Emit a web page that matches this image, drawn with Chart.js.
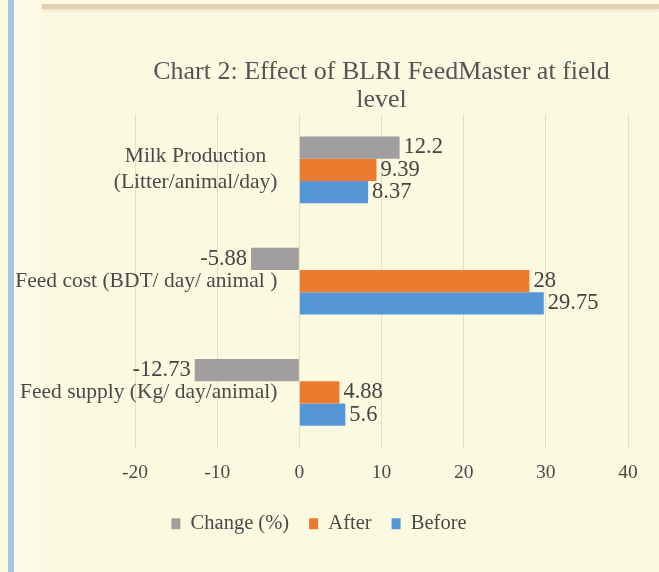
<!DOCTYPE html>
<html>
<head>
<meta charset="utf-8">
<script src="https://cdn.jsdelivr.net/npm/chart.js@4"></script>
<style>
  html, body { margin: 0; padding: 0; background: #fcf9e1; }
  #wrap { position: relative; width: 659px; height: 572px; overflow: hidden; background: #fcf9e1; }
  #sideLine { position: absolute; left: 8px; top: 0; width: 6px; height: 572px; background: #a9c5e6; }
  #sideGlow { position: absolute; left: 14px; top: 0; width: 26px; height: 572px; background: #fefbe9; }
  #topLine { position: absolute; left: 42px; top: 4px; width: 617px; height: 5px; background: #e4d0b3; box-shadow: 0 2px 3px #efe4c8; }
  canvas { position: absolute; left: 0; top: 0; }
</style>
</head>
<body>
<div id="wrap">
  <div id="sideGlow"></div>
  <div id="sideLine"></div>
  <div id="topLine"></div>
  <canvas id="barChart" width="659" height="572"></canvas>
</div>
<script>
// Kategori (atas ke bawah) dan nilai tiap seri
const categories = [
  ['Milk Production', '(Litter/animal/day)'],
  'Feed cost (BDT/ day/ animal )',
  'Feed supply (Kg/ day/animal)'
];
const changePct = [12.2, -5.88, -12.73];
const after = [9.39, 28, 4.88];
const before = [8.37, 29.75, 5.6];
const xTicks = [-20, -10, 0, 10, 20, 30, 40];

const serif = '"Liberation Serif", "Times New Roman", serif';
const textColor = '#4a4a4a';

// label kategori, rata kanan di kiri garis nol (seperti sumbu Excel yang memotong di 0)
const categoryLabels = {
  id: 'categoryLabels',
  afterDraw(chart) {
    const ctx = chart.ctx;
    const xs = chart.scales.x;
    const ys = chart.scales.y;
    const right = xs.getPixelForValue(0) - 22;
    const size = 21.5;
    const lh = 26;
    ctx.save();
    ctx.font = size + 'px ' + serif;
    ctx.fillStyle = textColor;
    ctx.textBaseline = 'middle';
    ctx.textAlign = 'center';
    chart.data.labels.forEach((lab, i) => {
      const lines = Array.isArray(lab) ? lab : [lab];
      const w = Math.max(...lines.map(l => ctx.measureText(l).width));
      const cx = right - w / 2;
      const cy = ys.getPixelForValue(i);
      lines.forEach((l, k) => {
        ctx.fillText(l, cx, cy + (k - (lines.length - 1) / 2) * lh);
      });
    });
    ctx.restore();
  }
};

// label angka di ujung batang
const valueLabels = {
  id: 'valueLabels',
  afterDatasetsDraw(chart) {
    const ctx = chart.ctx;
    ctx.save();
    ctx.font = '22.5px ' + serif;
    ctx.fillStyle = '#444444';
    ctx.textBaseline = 'middle';
    chart.data.datasets.forEach((ds, i) => {
      chart.getDatasetMeta(i).data.forEach((bar, j) => {
        const v = ds.data[j];
        if (v < 0) {
          ctx.textAlign = 'right';
          ctx.fillText(String(v), bar.x - 4, bar.y);
        } else {
          ctx.textAlign = 'left';
          ctx.fillText(String(v), bar.x + 4, bar.y);
        }
      });
    });
    ctx.restore();
  }
};

const ctx = document.getElementById('barChart').getContext('2d');
new Chart(ctx, {
  type: 'bar',
  data: {
    labels: categories,
    datasets: [
      { label: 'Change (%)', data: changePct, backgroundColor: '#a09e9e', borderWidth: 0 },
      { label: 'After', data: after, backgroundColor: '#ec7b2f', borderWidth: 0 },
      { label: 'Before', data: before, backgroundColor: '#5597d6', borderWidth: 0 }
    ]
  },
  options: {
    indexAxis: 'y',
    responsive: false,
    animation: false,
    devicePixelRatio: 1,
    categoryPercentage: 0.6,
    barPercentage: 1,
    layout: { padding: { left: 10, right: 31, top: 58, bottom: 28 } },
    scales: {
      x: {
        min: -20,
        max: 40,
        afterBuildTicks: (scale) => { scale.ticks = xTicks.map(v => ({ value: v })); },
        afterFit: (scale) => { scale.height -= 4; },
        grid: { color: '#e4e0c8', drawTicks: false },
        border: { display: false },
        ticks: { padding: 13, color: textColor, font: { family: serif, size: 19.5 } }
      },
      y: {
        position: 'left',
        afterFit: (scale) => { scale.width = 125; },
        grid: { display: false },
        border: { display: false },
        ticks: { display: false }
      }
    },
    plugins: {
      title: {
        display: true,
        fullSize: false,
        text: ['Chart 2: Effect of BLRI FeedMaster at field', 'level'],
        color: '#555555',
        font: { family: serif, size: 26, weight: 'normal', lineHeight: 1.08 },
        padding: 0
      },
      legend: {
        position: 'bottom',
        labels: {
          boxWidth: 9,
          boxHeight: 11,
          padding: 20,
          color: textColor,
          font: { family: serif, size: 20.5 }
        }
      },
      tooltip: { enabled: false }
    }
  },
  plugins: [valueLabels, categoryLabels]
});
</script>
</body>
</html>
